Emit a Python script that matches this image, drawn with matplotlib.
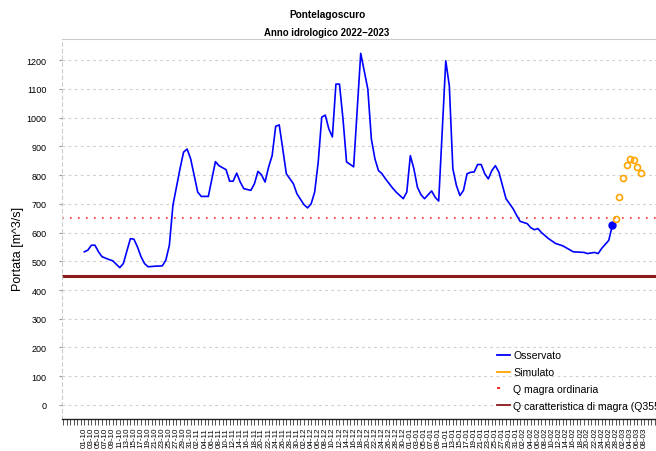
import matplotlib
matplotlib.use('Agg')
import matplotlib.pyplot as plt
import matplotlib.dates as mdates
from matplotlib.lines import Line2D
import pandas as pd

plt.rcParams['font.family'] = ['Liberation Sans', 'DejaVu Sans']

# Dati (giorni dal 01-10-2022)
start = pd.Timestamp('2022-10-01')
obs_day = [0, 1, 2, 3, 4, 5, 7, 8, 10, 11, 13, 14, 15, 16, 17, 18, 20, 22, 23, 24,
           25, 27, 28, 29, 30, 31, 32, 33, 35, 36, 37, 38, 40, 41, 42, 43, 44, 45, 47, 48,
           49, 50, 51, 52, 53, 54, 55, 56, 57, 59, 60, 62, 63, 64, 65, 66, 67, 68, 69, 70,
           71, 72, 73, 74, 76, 78, 80, 81, 82, 83, 84, 85, 87, 88, 90, 91, 92, 93, 94, 95,
           96, 98, 99, 100, 102, 103, 104, 105, 106, 107, 108, 109, 110, 111, 112, 113, 114, 115, 116, 117,
           118, 119, 121, 122, 123, 125, 126, 127, 128, 129, 131, 133, 135, 138, 141, 142, 144, 145, 146, 148,
           149]
obs_val = [533, 539, 556, 556, 533, 516, 506, 502, 478, 492, 579, 577, 550, 516, 492, 481, 483, 484, 504, 556,
           695, 822, 880, 891, 857, 799, 741, 726, 726, 787, 847, 833, 819, 779, 779, 807, 776, 753, 747, 770,
           813, 801, 776, 828, 868, 970, 975, 891, 805, 770, 735, 697, 686, 700, 741, 845, 1002, 1009, 961, 933,
           1117, 1117, 995, 846, 829, 1224, 1100, 926, 857, 816, 805, 787, 755, 741, 718, 741, 868, 822, 758, 732,
           718, 745, 723, 710, 1198, 1111, 822, 764, 729, 747, 805, 810, 811, 837, 837, 805, 787, 816, 833, 810,
           764, 718, 683, 660, 639, 631, 617, 610, 614, 600, 579, 562, 554, 533, 531, 527, 531, 527, 545, 573,
           625]
sim_day = [150, 151, 152, 153, 154, 155, 156, 157]
sim_val = [649, 724, 791, 836, 857, 851, 827, 809]
q_magra_ord = 652
q355 = 450
y_ticks = list(range(0, 1300, 100))

obs_dates = start + pd.to_timedelta(obs_day, unit='D')
sim_dates = start + pd.to_timedelta(sim_day, unit='D')

fig = plt.figure(figsize=(6.56, 4.52), dpi=100)
ax = fig.add_axes([62 / 656, 32 / 452, 601 / 656, 380 / 452])

ax.set_ylim(-49, 1274)
ax.set_xlim(mdates.date2num(start - pd.Timedelta(days=6.3)),
            mdates.date2num(start + pd.Timedelta(days=163.3)))

for y in y_ticks:
    ax.axhline(y, color='#cfcfcf', lw=0.8, ls=(0, (2.5, 3)), zorder=0)

ax.axhline(q_magra_ord, color='#ff3030', lw=1.2, ls=(0, (1, 3.8)), zorder=2)
ax.axhline(q355, color='#8b1a1a', lw=2.2, zorder=2)

ax.plot(obs_dates, obs_val, color='#0000ff', lw=1.2, zorder=3)
ax.plot(obs_dates[-1:], obs_val[-1:], 'o', color='#0000ff', ms=5, zorder=4)
ax.plot(sim_dates, sim_val, 'o', mfc='none', mec='#ffa500', mew=1.2, ms=4.3, zorder=4)

# assi
ax.set_yticks(y_ticks)
ax.tick_params(axis='y', labelsize=6.5, length=2, color='#999999', pad=9)
tick_dates = pd.date_range(start, periods=80, freq='2D')
ax.set_xticks(mdates.date2num(tick_dates))
ax.set_xticklabels([d.strftime('%d-%m') for d in tick_dates], rotation=90, fontsize=5.8)
ax.xaxis.set_minor_locator(mdates.DayLocator())
ax.tick_params(axis='x', which='both', length=4.5, width=0.6, color='#333333', pad=1)

ax.spines['right'].set_visible(False)
ax.spines['top'].set_color('#cccccc')
ax.spines['left'].set_color('#cccccc')
ax.spines['left'].set_linestyle((0, (3, 3)))
ax.spines['bottom'].set_color('#222222')
ax.spines['bottom'].set_linewidth(1.0)

handles = [Line2D([], [], color='#0000ff', lw=1.3),
           Line2D([], [], color='#ffa500', lw=1.3),
           Line2D([], [], color='#ff3030', lw=1.5, ls=(0, (1.5, 10))),
           Line2D([], [], color='#8b1a1a', lw=1.3)]
labels = ['Osservato', 'Simulato', 'Q magra ordinaria', 'Q caratteristica di magra (Q355)']
ax.legend(handles, labels, loc='lower left', bbox_to_anchor=(497 / 656, 40 / 452),
          bbox_transform=fig.transFigure, frameon=False, fontsize=7.6, borderpad=0,
          handlelength=1.25, handletextpad=0.3, labelspacing=0.65, borderaxespad=0)

fig.text(18 / 656, 1 - 249 / 452, 'Portata [m^3/s]', rotation=90, ha='center', va='center', fontsize=9)
fig.text(327 / 656, 1 - 15 / 452, 'Pontelagoscuro', ha='center', va='center', fontsize=7.3, fontweight='bold')
fig.text(327 / 656, 1 - 33 / 452, 'Anno idrologico 2022\u22122023', ha='center', va='center', fontsize=6.9,
         fontweight='bold')

fig.savefig('out.png', dpi=100)
